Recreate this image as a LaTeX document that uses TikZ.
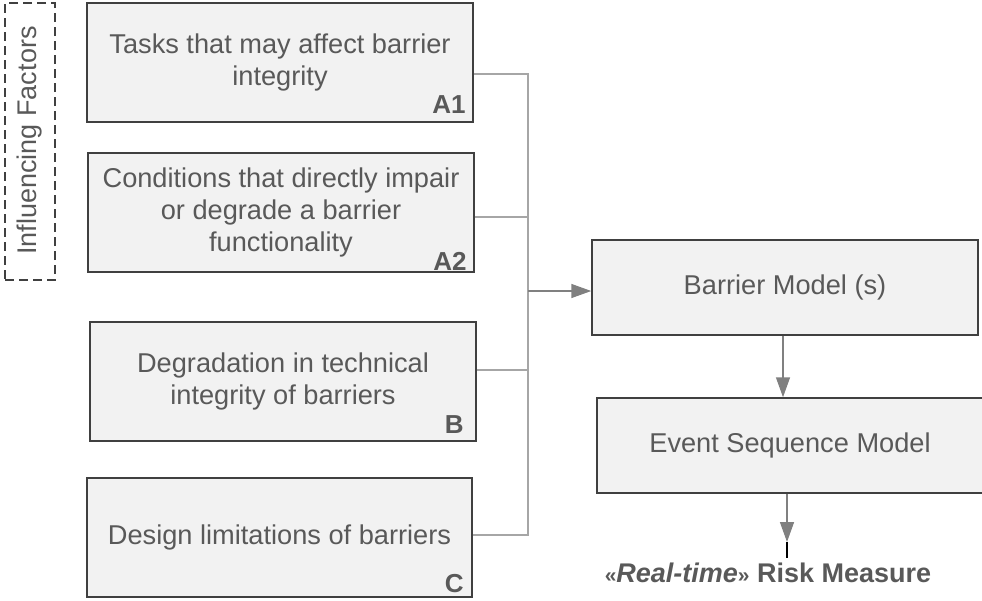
\documentclass[tikz,border=0pt]{standalone}
\usepackage{fontspec}
\setmainfont{Liberation Sans}
\usetikzlibrary{arrows.meta}
\definecolor{boxfill}{HTML}{F2F2F2}
\definecolor{boxdraw}{HTML}{404040}
\definecolor{txt}{HTML}{595959}
\definecolor{conn}{HTML}{808080}
\definecolor{bus}{HTML}{A6A6A6}
\tikzset{
  box/.style={draw=boxdraw, fill=boxfill, line width=1.5pt, inner sep=0pt, align=center,
    text=txt, font=\fontsize{27.2}{31.7}\selectfont},
  lbl/.style={anchor=base east, text=txt, font=\fontsize{26}{30}\selectfont\bfseries, inner sep=0pt},
  busline/.style={draw=bus, line width=1.5pt},
  arr/.style={draw=conn, line width=1.5pt, -{Triangle[length=20pt,width=14pt]}},
}
\begin{document}
\begin{tikzpicture}[x=1pt,y=-1pt]
\useasboundingbox (0,0) rectangle (982,600);
% influencing factors
\node[draw=boxdraw, line width=1.5pt, dash pattern=on 9pt off 5pt, minimum width=50pt, minimum height=277pt, inner sep=0pt] (inf) at (30,141.5) {};
\node[rotate=90, text=txt, font=\fontsize{27}{31.7}\selectfont, inner sep=0pt] (inft) at (30,140.5) {Influencing Factors};
% left boxes
\node[box, minimum width=386pt, minimum height=119pt] (a1) at (280,62.5) {Tasks that may affect barrier\\integrity};
\node[box, minimum width=386pt, minimum height=119pt] (a2) at (281,212.5) {Conditions that directly impair\\or degrade a barrier\\functionality};
\node[box, minimum width=386pt, minimum height=119pt] (b) at (283,381.5) {Degradation in technical\\integrity of barriers};
\node[box, minimum width=385pt, minimum height=119pt] (c) at (279.5,537.5) {Design limitations of barriers};
\node[lbl] (la1) at ([xshift=-8pt,yshift=9pt]a1.south east) {A1};
\node[lbl] (la2) at ([xshift=-8pt,yshift=2.5pt]a2.south east) {A2};
\node[lbl] (lb) at ([xshift=-13pt,yshift=8pt]b.south east) {B};
\node[lbl] (lc) at ([xshift=-9pt,yshift=5pt]c.south east) {C};
% right boxes
\node[box, minimum width=386pt, minimum height=95pt] (bm) at (785,287.5) {Barrier Model (s)};
\node[box, minimum width=386pt, minimum height=95pt] (es) at (790,445.5) {Event Sequence Model};
\node[text=txt, font=\fontsize{27}{31.7}\selectfont\bfseries, inner sep=0pt, anchor=base] (rm) at (768,582) {{\fontsize{21}{24}\selectfont«}\textit{Real-time}{\fontsize{21}{24}\selectfont»} Risk Measure};
% bus
\coordinate (j) at (528,291);
\draw[busline] (a1.east |- 0,74) -- (528,74) -- (528,535) -- (c.east |- 0,535);
\draw[busline] (a2.east |- 0,217) -- (528,217);
\draw[busline] (b.east |- 0,370) -- (528,370);
\draw[arr] (j) -- (bm.west |- j);
\draw[arr] (bm.south -| 783,0) -- (es.north -| 783,0);
\coordinate (rt) at (787,542);
\draw[arr] (es.south -| rt) -- (rt);
\draw[line width=1.5pt, black] (rt) -- (787,558);
\end{tikzpicture}
\end{document}
